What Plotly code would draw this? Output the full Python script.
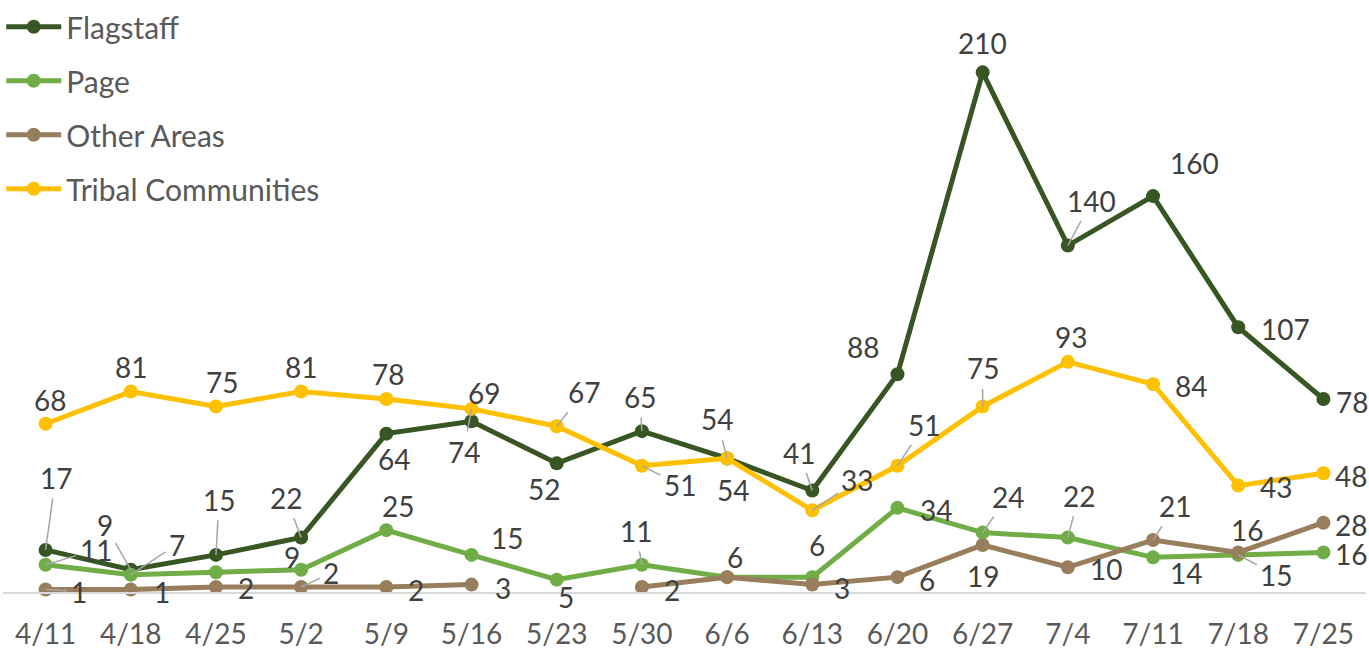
import plotly.graph_objects as go

# ---- data ----
dates = ["4/11", "4/18", "4/25", "5/2", "5/9", "5/16", "5/23", "5/30",
         "6/6", "6/13", "6/20", "6/27", "7/4", "7/11", "7/18", "7/25"]
flagstaff = [17, 9, 15, 22, 64, 69, 52, 65, 54, 41, 88, 210, 140, 160, 107, 78]
page = [11, 7, 8, 9, 25, 15, 5, 11, 6, 6, 34, 24, 22, 14, 15, 16]
other_areas = [1, 1, 2, 2, 2, 3, None, 2, 6, 3, 6, 19, 10, 21, 16, 28]
tribal = [68, 81, 75, 81, 78, 74, 67, 51, 54, 33, 51, 75, 93, 84, 43, 48]

# ---- label placement (pixel offsets dx right, dy down, leader line flag) ----
flag_lbl = [(10, -72, 1), (-26, -45, 1), (3, -55, 1), (-15, -40, 1), (8, 25, 0),
            (12, -28, 0), (-13, 26, 0), (-2, -34, 1), (6, 32, 0), (-13, -38, 1),
            (-34, -27, 0), (0, -29, 0), (24, -45, 1), (41, -33, 0), (47, 2, 0), (29, 3, 0)]
page_lbl = [(50, -15, 1), (46, -30, 1), None, (-9, -13, 0), (12, -24, 0),
            (35, -17, 0), (9, 17, 0), (-6, -34, 1), (8, -20, 0), (5, -32, 0),
            (39, 2, 0), (25, -36, 1), (11, -42, 1), (33, 16, 0), (38, 20, 1), (28, 2, 0)]
other_lbl = [(33, 2, 1), (31, 2, 0), (30, 1, 0), (30, -14, 1), (30, 3, 0),
             (31, 3, 0), None, (30, 3, 0), None, (30, 3, 0),
             (30, 3, 0), (0, 31, 0), (38, 2, 0), (22, -34, 1), (9, -22, 0), (28, 2, 0)]
tribal_lbl = [(4, -24, 0), (0, -25, 0), (6, -24, 0), (0, -25, 0), (2, -25, 0),
              (-8, 43, 1), (27, -34, 1), (38, 19, 1), (-10, -39, 1), (45, -30, 1),
              (27, -41, 1), (0, -38, 1), (3, -25, 0), (38, 2, 0), (38, 1, 0), (28, 3, 0)]

series = [
    ("Flagstaff", flagstaff, "#375623", flag_lbl),
    ("Page", page, "#70AD47", page_lbl),
    ("Other Areas", other_areas, "#987E5C", other_lbl),
    ("Tribal Communities", tribal, "#FFC000", tribal_lbl),
]

FONT = "Lato, 'Liberation Sans', Arial, sans-serif"

fig = go.Figure()
annotations = []
for i, (name, vals, color, lbls) in enumerate(series):
    fig.add_trace(go.Scatter(
        x=dates, y=vals, name=name, mode="lines+markers",
        line=dict(color=color, width=5),
        marker=dict(color=color, size=14),
        connectgaps=False, legendgroup=name, cliponaxis=False,
        hoverinfo="skip",
    ))
    for d, v, l in zip(dates, vals, lbls):
        if v is None or l is None:
            continue
        dx, dy, leader = l
        if leader:
            annotations.append(dict(
                x=d, y=v, xref="x", yref="y", text=str(v),
                showarrow=True, ax=dx, ay=dy, arrowhead=0, arrowwidth=1.5,
                arrowcolor="#A6A6A6", standoff=0, startstandoff=2,
                font=dict(family=FONT, size=28, color="#404040"),
            ))
        else:
            annotations.append(dict(
                x=d, y=v, xref="x", yref="y", text=str(v),
                showarrow=False, xshift=dx, yshift=-dy,
                font=dict(family=FONT, size=28, color="#404040"),
            ))

fig.update_layout(
    width=1369, height=654,
    margin=dict(l=3, r=3, t=10, b=62, autoexpand=False),
    paper_bgcolor="white", plot_bgcolor="white",
    font=dict(family=FONT, color="#595959"),
    annotations=annotations,
    showlegend=True,
    legend=dict(
        x=-0.0013, y=1.0158, xanchor="left", yanchor="top",
        font=dict(family=FONT, size=30, color="#595959"),
        bgcolor="rgba(0,0,0,0)", tracegroupgap=12, itemwidth=55,
    ),
    xaxis=dict(
        type="category", range=[-0.5, 15.5], showgrid=False, zeroline=False,
        showline=True, linecolor="#D9D9D9", linewidth=2, ticks="",
        tickfont=dict(family=FONT, size=28, color="#595959"),
        ticklabelstandoff=16, automargin=False, fixedrange=True,
    ),
    yaxis=dict(
        range=[0, 235.2], showgrid=False, zeroline=False, showline=False,
        showticklabels=False, ticks="", automargin=False, fixedrange=True,
    ),
)

fig.write_html(
    "out.html",
    config={"displayModeBar": False},
    post_script="document.body.style.margin='0px';document.body.style.overflow='hidden';",
)
